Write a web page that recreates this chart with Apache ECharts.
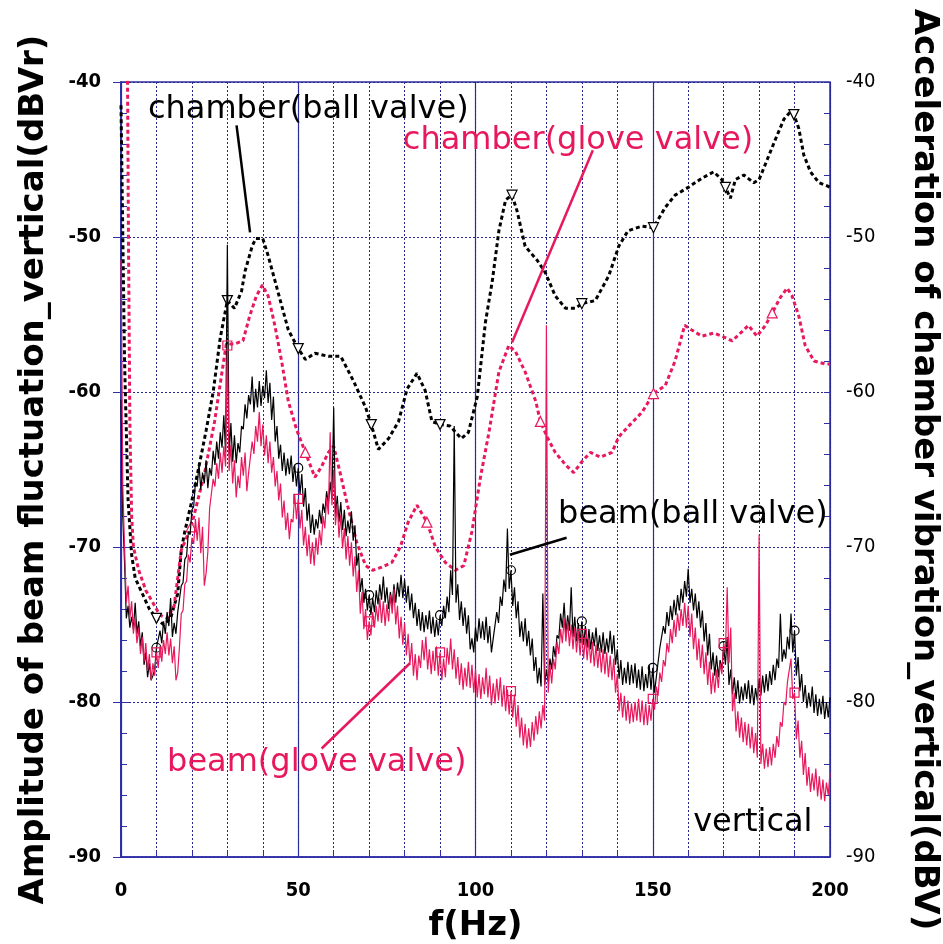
<!DOCTYPE html>
<html>
<head>
	<meta charset="utf-8">
	<title>vertical spectrum</title>
	<script src="https://cdn.jsdelivr.net/npm/echarts@6/dist/echarts.min.js"></script>
	<style type="text/css">
		html, body { margin: 0; padding: 0; background: #fff; }
		#main { width: 943px; height: 944px; }
	</style>
</head>
<body>
<div id="main"></div>
<script type="text/javascript">

	// ======================== data
	// chamber(ball valve), dotted black : [f(Hz), dBV]
	var chamberBall = [
		[0,-41.5],[1,-58],[2,-67],[3,-70.5],[4,-72],[6,-73],[8,-74],[10,-74.6],[12,-75],[14,-74.6],
		[16,-73],[17,-70.2],[18,-69],[20,-67],[22,-64.8],[24,-62.5],[26,-60],[28,-56.5],[30,-54.1],[32,-54.6],
		[34,-53.5],[35,-52.2],[37,-50.6],[38,-50.1],[40,-50.1],[41.5,-51.2],[43.4,-52.8],[45.3,-54.4],[47.2,-56],[50,-57.2],
		[52,-57.9],[54.7,-57.5],[58.5,-57.7],[62,-57.7],[65.6,-59.3],[69,-61],[70.6,-62.1],[72.6,-63.7],[75.5,-63],[78.3,-61.9],
		[80.7,-59.8],[83.5,-58.8],[85.8,-59.9],[87.7,-61.9],[90,-62.1],[92.8,-62.2],[96,-63],[98,-62.6],[100.5,-60.3],[102.8,-55.5],
		[104.7,-52.9],[106.6,-49.6],[108.5,-47.6],[110.3,-47.3],[111.7,-48.3],[114,-50.6],[117.4,-51.5],[119.7,-52.3],[122.5,-53.8],[125.4,-54.6],
		[128.2,-54.6],[130,-54.3],[133.8,-54.1],[137.6,-52.5],[140.4,-50.6],[143,-49.6],[147,-49.3],[150.2,-49.4],[153.5,-48.1],[156.3,-47.3],
		[160,-46.8],[163.9,-46.2],[167.2,-45.8],[169.5,-46.3],[170.5,-46.8],[171.9,-47.5],[173.3,-46.3],[175.7,-46],[178.5,-46.5],[180,-46.3],
		[182.3,-45],[184.6,-43.7],[187,-42.4],[188.9,-41.9],[189.8,-42.1],[191.2,-43],[192.6,-44.7],[194.5,-45.8],[196.9,-46.5],[199.2,-46.7],[200,-46.8]
	];
	// chamber(glove valve), dotted pink : [f(Hz), dBV]
	var chamberGlove = [
		[0,-30],[1.8,-38],[2.1,-50],[2.5,-62],[3,-68],[3.5,-70],[5,-71.5],[7,-72.8],[9,-73.6],[11,-74.4],
		[13,-74.6],[15,-73.8],[17,-70.2],[19.8,-68.7],[23.6,-65.2],[26.4,-61.9],[28.3,-59],[29.7,-56.9],[32,-56.9],[34.4,-56.7],
		[36.3,-55.1],[38.2,-53.8],[39.9,-53.1],[41.5,-53.8],[43.4,-55.7],[45.3,-58],[47.2,-60.6],[49.5,-62.4],[52,-63.9],[54.7,-65.5],
		[56.6,-64.8],[58.5,-63.9],[60,-63.5],[61.8,-65.2],[64,-67.4],[66.5,-69.7],[69,-71.2],[71,-71.5],[73.6,-71.3],[76.4,-71],
		[78.8,-70],[81,-68.4],[83.5,-67.3],[86.3,-68.4],[88.7,-70],[91.5,-71],[94.3,-71.5],[96.7,-71.2],[99,-69],[101.4,-65.5],
		[103.8,-62.6],[106.6,-58.7],[109.4,-57],[111.3,-57.4],[114,-58.7],[117,-60.6],[118.3,-61.9],[120.2,-62.9],[122.5,-63.9],[125.4,-64.7],
		[127.7,-65.2],[130,-64.5],[132.4,-63.9],[135.2,-64.2],[138.5,-63.9],[140.4,-62.9],[143.2,-62.2],[147,-61.3],[150.2,-60.1],[153.5,-59.6],
		[156.3,-58],[159,-55.7],[161,-56],[163.9,-56.4],[167.2,-56.2],[169.5,-56.4],[172.4,-56.7],[175.2,-56.1],[177,-55.7],[179.4,-56.4],
		[181.8,-55.7],[183.7,-54.9],[186,-53.9],[187.9,-53.3],[189.3,-53.8],[191.2,-55.1],[193,-57],[195.5,-58],[198.8,-58.2],[200,-58.2]
	];

	// beam(ball valve), solid black (dBVr)
	// beamBall[i] is the reading at i Hz (upper edge of the noise band),
	// beamBallHalf[i] the reading at i+0.5 Hz (lower edge of the band)
	var beamBall = [
		-60.5,-71,-73.8,-74.5,-73.6,-74.8,-75.5,-76.8,-77.5,-78.3,
		-76.5,-75.4,-74.8,-74.2,-73.3,-74.9,-74.2,-72.5,-70.8,-69,
		-67.6,-65.8,-64.6,-65.2,-64.4,-64.9,-63.8,-63.2,-62.6,-61.5,
		-50.5,-62,-62.8,-63.3,-62.2,-60.8,-60.2,-59,-59.8,-59.3,
		-59.6,-58.6,-59.4,-60.3,-62.2,-63.4,-63.9,-64.3,-64.1,-64.7,
		-64.9,-65.3,-66.2,-67.2,-67.9,-68.2,-67.6,-67.2,-66.4,-65.8,
		-61,-66.7,-67.1,-67.6,-68.3,-67.7,-68.6,-70.4,-72,-72.7,
		-73.1,-73.3,-72.8,-72.4,-71.9,-72.6,-72.9,-72.4,-72.3,-71.8,
		-72.1,-72.5,-73,-73.6,-74,-74.2,-74.4,-74.1,-74.5,-74.7,
		-74.4,-73.8,-73.2,-71.5,-62.2,-72.4,-73.5,-73.9,-74.4,-75.9,
		-75.2,-74.6,-74.8,-74.5,-75.1,-75.9,-74.2,-73.2,-72.1,-68.8,
		-71.5,-72.6,-73.5,-74.8,-74.6,-75.4,-75.9,-77.1,-77.8,-73,
		-77.9,-77.2,-76.4,-75.7,-74.3,-73.6,-74.4,-72.6,-74.5,-74.9,
		-74.8,-75.1,-75.3,-75.5,-75.2,-75.7,-75.5,-75.9,-75.4,-75.7,
		-76.6,-77.3,-77.8,-77.4,-77.6,-77.5,-77.9,-77.7,-78.2,-77.6,
		-77.8,-78.4,-76.5,-75.1,-74.2,-73.8,-73.4,-73.1,-72.7,-72.2,
		-71.4,-72.7,-73,-73.5,-74.1,-74.9,-75.6,-76.8,-77,-77.3,
		-76.4,-75.8,-77.9,-78.4,-78.6,-79,-78.8,-78.6,-78.9,-79.1,
		-78.5,-78.3,-78.2,-78,-77.6,-77.2,-74.3,-76.6,-75.8,-74.3,
		-75.4,-77.1,-78.2,-78.9,-79.4,-79,-79.5,-79.8,-79.6,-80,
		-79.7
	];
	var beamBallHalf = [
		-68,-74.6,-75.2,-75.3,-75.6,-76.4,-77.6,-78.4,-78.6,-77.9,
		-76.6,-76.2,-75.6,-75.1,-75.8,-75.6,-74.1,-72.3,-70.6,-69.2,
		-67.4,-66.1,-66.3,-65.9,-66.2,-65.4,-64.7,-64.3,-63.6,-63.9,
		-64.1,-64.5,-64.6,-63.9,-62.4,-61.7,-60.8,-61.3,-61,-60.9,
		-60.4,-60.7,-61.8,-63.2,-64.3,-65.1,-65.4,-65.3,-65.8,-66.1,
		-66.6,-67.4,-68.3,-69.1,-69.2,-68.8,-68.5,-67.8,-67.3,-66.9,
		-68.1,-68.4,-68.9,-69.3,-69.1,-69.6,-71.2,-72.9,-73.6,-74.1,
		-74.4,-74.2,-73.7,-73.4,-73.6,-74,-73.8,-73.6,-73.2,-73.3,
		-73.6,-74.1,-74.6,-75.1,-75.4,-75.5,-75.3,-75.6,-75.8,-75.7,
		-75.1,-74.6,-74.2,-73.1,-73.6,-74.7,-75.1,-75.6,-76.6,-76.8,
		-76.1,-75.9,-76,-76.2,-76.8,-76,-74.9,-73.8,-72.9,-72.7,
		-73.8,-74.6,-75.8,-76.1,-76.4,-77,-78,-78.8,-79,-78.9,
		-78.7,-77.9,-77.1,-75.9,-75.2,-75.6,-75.4,-75.8,-76.1,-76.2,
		-76.3,-76.5,-76.6,-76.4,-76.7,-76.8,-76.9,-76.8,-76.9,-77.6,
		-78.5,-78.9,-78.8,-78.9,-78.8,-79.1,-79.2,-79.3,-79.1,-79.2,
		-79.4,-78.3,-76.6,-75.6,-75.1,-74.7,-74.4,-74.1,-73.6,-73.2,
		-73.6,-74.1,-74.6,-75.2,-76.1,-77,-77.9,-78.3,-78.4,-77.9,
		-77.6,-78.9,-79.5,-79.8,-80.1,-79.9,-79.8,-80.1,-80.2,-79.9,
		-79.6,-79.4,-79.3,-78.9,-78.6,-77.8,-77.4,-77.2,-76.6,-76.8,
		-78.3,-79.3,-80,-80.4,-80.3,-80.7,-80.9,-80.8,-81.1,-81
	];

	// beam(glove valve), solid pink (dBVr), same layout as the black curve
	var beamGlove = [
		-51.5,-70,-72.5,-73.5,-74.6,-75.2,-75.8,-76.2,-76.9,-77.5,
		-76.8,-76.4,-76,-75.5,-75.9,-76.4,-78.1,-74.3,-72.4,-70.5,
		-69.4,-68.2,-68.1,-68.7,-71.7,-67.5,-65.6,-64.6,-63.9,-63.5,
		-57,-63.4,-64.4,-65.4,-64.2,-63.9,-65.2,-63.2,-62.2,-61.3,
		-62.1,-62.8,-63.2,-64.2,-65.1,-65.9,-67,-67.8,-68.2,-66.6,
		-66.9,-67.6,-68.7,-69.2,-69.7,-69.4,-68.9,-68,-66.8,-62.6,
		-65,-67.2,-67.9,-68.8,-69.3,-69.7,-70.6,-71.5,-72.9,-74,
		-74.8,-74.2,-73.8,-73.3,-73.5,-73.7,-73.1,-72.7,-73.8,-74.5,
		-74.9,-75.6,-76.2,-76.9,-77,-76,-75.8,-76.6,-76.7,-76.4,
		-76.8,-77.2,-76.5,-75.9,-76.6,-77.1,-77.5,-77.8,-77.4,-77.6,
		-77.9,-78.2,-78.4,-77.8,-78.3,-78.8,-78.5,-78.4,-78.9,-79.2,
		-79.3,-79.5,-80.2,-81,-81.4,-81.7,-81.3,-80.9,-80.6,-80.2,
		-55.7,-77.6,-77.2,-76.1,-75.3,-74.6,-74.8,-75,-75.2,-75.4,
		-75.6,-75.8,-75.9,-76.1,-76.3,-76.5,-76.6,-76.8,-77,-77.2,
		-78.2,-79.4,-79.6,-79.9,-80.1,-80,-79.8,-79.9,-80.1,-80.2,
		-79.8,-79,-78.1,-77.3,-76.2,-75.3,-74.7,-74.3,-74,-73.6,
		-73.8,-74.3,-75.2,-75.9,-76.3,-76.8,-77.4,-78.1,-77.9,-77.5,
		-76.2,-72.6,-75.2,-79.4,-80.6,-81,-81.3,-81.4,-81.6,-82,
		-69.2,-82.7,-83,-82.9,-82.7,-82.2,-81.3,-80,-78.7,-77.2,
		-79.4,-81.2,-82.5,-83.3,-84.2,-84.6,-84.3,-84.8,-85,-85.2,
		-84.6
	];
	var beamGloveHalf = [
		-66,-73.6,-74.6,-75.6,-76.2,-76.9,-77.4,-78,-78.6,-78.3,
		-77.8,-77.4,-76.9,-77,-77.5,-78.6,-76.4,-74.1,-72.2,-71,
		-69.8,-69.6,-70.4,-72.5,-70.3,-67.4,-66.1,-65.6,-65.2,-64.8,
		-65.1,-65.9,-66.8,-66.2,-65.4,-66.4,-65.1,-64,-63.2,-63.5,
		-64.1,-64.6,-65.2,-66.1,-67,-68.1,-68.9,-69.5,-68.4,-68.2,
		-68.8,-69.9,-70.6,-71.1,-71.2,-70.5,-69.9,-68.8,-67.9,-67.3,
		-68.6,-69.4,-70.1,-70.8,-71.2,-71.9,-72.9,-74.3,-75.3,-76,
		-75.7,-75.2,-74.8,-74.9,-75.1,-74.8,-74.3,-75,-75.9,-76.3,
		-77,-77.6,-78.3,-78.6,-77.8,-77.3,-77.9,-78.2,-78,-78.3,
		-78.6,-78.4,-77.6,-77.9,-78.5,-78.9,-79.2,-79,-79.1,-79.4,
		-79.7,-79.8,-79.5,-79.7,-80.2,-80.1,-79.9,-80.3,-80.6,-80.8,
		-81,-81.6,-82.3,-82.8,-83,-82.9,-82.5,-82.1,-81.7,-81.2,
		-79.4,-78.8,-77.9,-76.9,-76.2,-76.1,-76.4,-76.6,-76.8,-77,
		-77.2,-77.3,-77.5,-77.7,-77.8,-78.1,-78.2,-78.4,-78.6,-79.4,
		-80.6,-81,-81.2,-81.4,-81.3,-81.2,-81.3,-81.5,-81.5,-81.2,
		-80.5,-79.6,-78.7,-77.7,-76.8,-76.2,-75.8,-75.4,-75.1,-75.2,
		-75.8,-76.6,-77.3,-77.8,-78.2,-78.9,-79.5,-79.4,-79.1,-78.2,
		-76.8,-77.5,-80.6,-81.9,-82.3,-82.6,-82.8,-83,-83.3,-83.6,
		-84,-84.3,-84.2,-84.1,-83.6,-82.9,-81.6,-80.2,-78.6,-79.8,
		-82.4,-83.6,-84.7,-85.4,-85.8,-85.7,-86.1,-86.3,-86.4,-86
	];

	// frequencies (Hz) that carry a marker on each curve
	var chamberBallMarks = [10, 30, 50, 70.6, 90, 110.3, 130, 150.2, 170.5, 189.8];
	var chamberGloveMarks = [19.8, 52, 86.3, 118.3, 150.2, 183.7];
	var beamBallMarks = [10, 50, 70, 90, 110, 130, 150, 170, 190];
	var beamGloveMarks = [10, 30, 50, 70, 90, 110, 130, 150, 170, 190];

	var xTicks = [0, 50, 100, 150, 200];

	// annotations in data coordinates [f, dB]
	var notes = [
		{ text: 'chamber(ball valve)', at: [7.6, -41.8], color: '#000' },
		{ text: 'chamber(glove valve)', at: [79.5, -43.8], color: '#e8185c' },
		{ text: 'beam(ball valve)', at: [123.3, -67.9], color: '#000' },
		{ text: 'beam(glove valve)', at: [13, -83.9], color: '#e8185c' },
		{ text: 'vertical', at: [161.4, -87.8], color: '#000' }
	];
	var leaders = [
		{ from: [32.6, -42.8], to: [36.4, -49.7], color: '#000' },
		{ from: [133.1, -44.4], to: [110.3, -56.8], color: '#e8185c' },
		{ from: [125.7, -69.4], to: [109.7, -70.5], color: '#000' },
		{ from: [56.6, -83], to: [81.5, -77.5], color: '#e8185c' }
	];

	// ======================== helpers
	var BLUE = '#2e2ea6';
	var GRIDBLUE = '#26268c';
	var PINK = '#e8185c';

	// whole-Hz readings interleaved with the half-Hz readings
	function perHz(whole, half) {
		var out = [];
		for (var i = 0; i < whole.length; i++) {
			out.push([i, whole[i]]);
			if (i < half.length) out.push([i + 0.5, half[i]]);
		}
		return out;
	}
	function markedSymbol(marks, shape) {
		return function(val) {
			return marks.indexOf(val[0]) >= 0 ? shape : 'none';
		};
	}
	var downTri = 'path://M0,0 L10,0 L5,9 Z';
	var upTri = 'path://M5,0 L10,9 L0,9 Z';

	// small inward ticks every 2 dB on one side
	function minorTickAxis(side) {
		return {
			type: 'value', min: -90, max: -40, interval: 2, position: side,
			axisLine: { show: false },
			axisTick: { show: true, inside: true, length: 6, lineStyle: { color: BLUE } },
			axisLabel: { show: false },
			splitLine: { show: false }
		};
	}

	var nameFont = { fontFamily: 'DejaVu Sans', fontWeight: 'bold', fontSize: 34, color: '#000' };

	// ======================== render
	var myChart = echarts.init(document.getElementById('main'));
	var option = {
		animation: false,
		backgroundColor: '#fff',
		grid: {
			left: 121, right: 113, top: 82, bottom: 87,
			show: true, borderColor: BLUE, borderWidth: 1.5,
			outerBoundsMode: 'none'
		},
		xAxis: [{
			type: 'value', min: 0, max: 200, interval: 50,
			name: 'f(Hz)', nameLocation: 'middle', nameGap: 52,
			nameTextStyle: nameFont,
			axisLine: { show: true, lineStyle: { color: BLUE, width: 1.5 } },
			axisTick: { show: false },
			axisLabel: {
				margin: 24, color: '#000', fontWeight: 'bold', fontSize: 20,
				fontFamily: 'DejaVu Sans Condensed, DejaVu Sans',
				formatter: function(v) { return xTicks.indexOf(v) >= 0 ? String(v) : ''; }
			},
			splitLine: { show: true, lineStyle: { color: BLUE, width: 1.2, type: 'solid' } }
		}, {
			type: 'value', min: 0, max: 200, interval: 10, position: 'bottom',
			axisLine: { show: false },
			axisTick: { show: true, inside: true, length: 6, lineStyle: { color: BLUE } },
			axisLabel: { show: false },
			splitLine: { show: true, lineStyle: { color: GRIDBLUE, width: 1, type: [2, 2] } }
		}],
		yAxis: [{
			type: 'value', min: -90, max: -40, interval: 10, position: 'left',
			name: 'Amplitude of beam fluctuation_vertical(dBVr)',
			nameLocation: 'middle', nameGap: 70, nameRotate: 90,
			nameTextStyle: nameFont,
			axisLine: { show: true, lineStyle: { color: BLUE, width: 1.5 } },
			axisTick: { show: true, inside: true, length: 8, lineStyle: { color: BLUE } },
			axisLabel: {
				margin: 20, color: '#000', fontWeight: 'bold', fontSize: 20,
				fontFamily: 'DejaVu Sans Condensed, DejaVu Sans'
			},
			splitLine: { show: true, lineStyle: { color: GRIDBLUE, width: 1, type: [2, 2] } }
		}, {
			type: 'value', min: -90, max: -40, interval: 10, position: 'right',
			name: 'Acceleration of chamber vibration_vertical(dBV)',
			nameLocation: 'middle', nameGap: 77, nameRotate: -90,
			nameTextStyle: nameFont,
			axisLine: { show: true, lineStyle: { color: BLUE, width: 1.5 } },
			axisTick: { show: true, inside: true, length: 8, lineStyle: { color: BLUE } },
			axisLabel: {
				margin: 16, color: '#000', fontSize: 20,
				fontFamily: 'DejaVu Sans Condensed, DejaVu Sans'
			},
			splitLine: { show: false }
		}, minorTickAxis('left'), minorTickAxis('right')],
		series: [{
			name: 'chamber(ball valve)', type: 'line', yAxisIndex: 1,
			data: chamberBall, showAllSymbol: true,
			symbol: markedSymbol(chamberBallMarks, downTri), symbolSize: 10,
			itemStyle: { color: '#fff', borderColor: '#000', borderWidth: 1.2 },
			lineStyle: { color: '#000', width: 3, type: [4, 3] },
			silent: true, z: 2
		}, {
			name: 'chamber(glove valve)', type: 'line', yAxisIndex: 1,
			data: chamberGlove, showAllSymbol: true,
			symbol: markedSymbol(chamberGloveMarks, upTri), symbolSize: 10,
			itemStyle: { color: '#fff', borderColor: PINK, borderWidth: 1.2 },
			lineStyle: { color: PINK, width: 3, type: [4, 3] },
			silent: true, z: 2
		}, {
			name: 'beam(ball valve)', type: 'line', yAxisIndex: 0,
			data: perHz(beamBall, beamBallHalf), showAllSymbol: true,
			symbol: markedSymbol(beamBallMarks, 'circle'), symbolSize: 9,
			itemStyle: { color: 'rgba(255,255,255,0)', borderColor: '#000', borderWidth: 1.2 },
			lineStyle: { color: '#000', width: 1.2 },
			silent: true, z: 3
		}, {
			name: 'beam(glove valve)', type: 'line', yAxisIndex: 0,
			data: perHz(beamGlove, beamGloveHalf), showAllSymbol: true,
			symbol: markedSymbol(beamGloveMarks, 'rect'), symbolSize: 9,
			itemStyle: { color: 'rgba(255,255,255,0)', borderColor: PINK, borderWidth: 1.2 },
			lineStyle: { color: PINK, width: 1.2 },
			silent: true, z: 4
		}]
	};
	myChart.setOption(option);

	// annotations placed through the chart's own scales
	var graphics = [];
	leaders.forEach(function(l) {
		var a = myChart.convertToPixel({ xAxisIndex: 0, yAxisIndex: 0 }, l.from);
		var b = myChart.convertToPixel({ xAxisIndex: 0, yAxisIndex: 0 }, l.to);
		graphics.push({
			type: 'line', z: 10,
			shape: { x1: a[0], y1: a[1], x2: b[0], y2: b[1] },
			style: { stroke: l.color, lineWidth: 2.5 }
		});
	});
	notes.forEach(function(n) {
		var p = myChart.convertToPixel({ xAxisIndex: 0, yAxisIndex: 0 }, n.at);
		graphics.push({
			type: 'text', z: 11, x: p[0], y: p[1],
			style: {
				text: n.text, fill: n.color, fontSize: 32,
				fontFamily: 'DejaVu Sans', verticalAlign: 'middle', align: 'left'
			}
		});
	});
	myChart.setOption({ graphic: graphics });

	window.onresize = function() { myChart.resize(); };
</script>
</body>
</html>
